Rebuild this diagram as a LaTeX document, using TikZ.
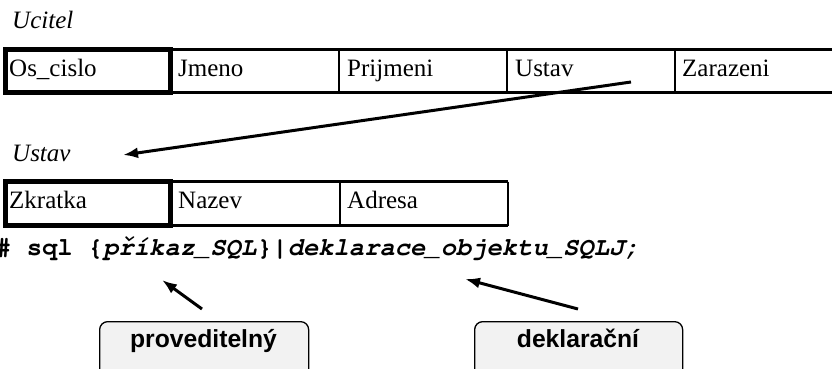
\documentclass[tikz,border=0pt]{standalone}
\usepackage[T1]{fontenc}
\usepackage{fontspec}
\setmainfont{Liberation Serif}
\newfontfamily\boxfont{Liberation Sans}
\usetikzlibrary{arrows.meta}
\newcommand{\courierbold}{\fontencoding{T1}\fontfamily{pcr}\fontseries{b}\fontshape{n}\fontsize{25.5}{30}\selectfont}
\begin{document}
\begin{tikzpicture}[x=1pt,y=-1pt,
  rowline/.style={line width=2.8pt},
  keybox/.style={line width=5pt},
  celltext/.style={anchor=base west, inner sep=0pt, font=\fontsize{25}{30}\selectfont},
  tabtitle/.style={anchor=base west, inner sep=0pt, font=\fontsize{25}{30}\selectfont\itshape},
  arr/.style={line width=3pt, -{Latex[length=15pt,width=11pt]}},
  tag/.style={draw, line width=1.3pt, rounded corners=8pt, fill=gray!10, inner sep=0pt},
  tagtext/.style={anchor=base, inner sep=0pt, font=\boxfont\bfseries\fontsize{24.7}{30}\selectfont},
  codetext/.style={anchor=base west, inner sep=0pt, font=\courierbold}]
\useasboundingbox (0,0) rectangle (832,369);

% table Ucitel
\node[tabtitle] (ucitel) at (12,29) {Ucitel};
\draw[rowline] (5,49.5) -- (850,49.5) (5,92.5) -- (850,92.5)
  (339,49.5) -- (339,92.5) (507,49.5) -- (507,92.5) (675,49.5) -- (675,92.5);
\draw[keybox] (5,49.5) rectangle (170.5,92.5);
\node[celltext] (oscislo) at (9,76) {Os\_cislo};
\node[celltext] (jmeno) at (178,76) {Jmeno};
\node[celltext] (prijmeni) at (347,76) {Prijmeni};
\node[celltext] (ustavcol) at (515,76) {Ustav};
\node[celltext] (zarazeni) at (682,76) {Zarazeni};

% table Ustav
\node[tabtitle] (ustav) at (12,161) {Ustav};
\draw[rowline] (5,181.5) -- (508,181.5) (5,225.5) -- (508,225.5)
  (340,181.5) -- (340,225.5) (508,181.5) -- (508,225.5);
\draw[keybox] (5,181.5) rectangle (170.5,225.5);
\node[celltext] (zkratka) at (9,208) {Zkratka};
\node[celltext] (nazev) at (178,208) {Nazev};
\node[celltext] (adresa) at (347,208) {Adresa};

% foreign key arrow
\coordinate (fkfrom) at (631,82);
\coordinate (fkto) at (123,155);
\draw[arr] (fkfrom) -- (fkto);

% code line
\node[codetext] (code) at (-4,255) {\# sql \{\textit{p\v{r}\'{\i}kaz\_SQL}\}|\textit{deklarace\_objektu\_SQLJ;}};

% tags
\node[tag, anchor=north west, minimum width=209pt, minimum height=70pt] (box1) at (99,321) {};
\node[tagtext] (prov) at (203.5,347) {proveditelný};
\node[tag, anchor=north west, minimum width=208pt, minimum height=70pt] (box2) at (474,321) {};
\node[tagtext] (dekl) at (578,347) {deklarační};

\coordinate (a1from) at (202,309);
\coordinate (a1to) at (162,280);
\draw[arr] (a1from) -- (a1to);
\coordinate (a2from) at (578,309);
\coordinate (a2to) at (465,279);
\draw[arr] (a2from) -- (a2to);
\end{tikzpicture}
\end{document}
